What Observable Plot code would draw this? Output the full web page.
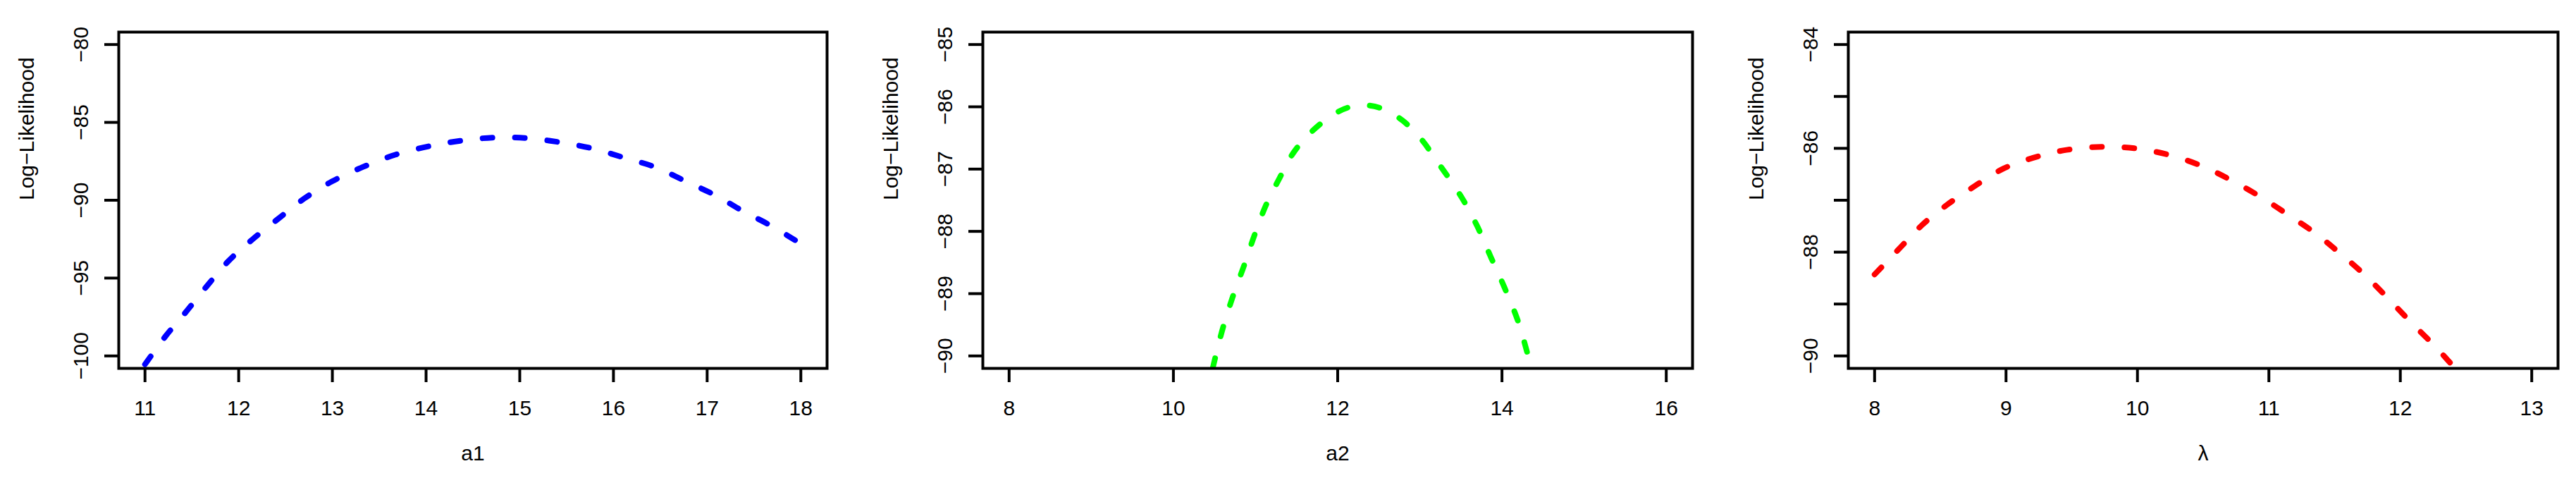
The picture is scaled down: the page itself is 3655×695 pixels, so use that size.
<!DOCTYPE html>
<html>
<head>
<meta charset="utf-8">
<script src="https://cdn.jsdelivr.net/npm/d3@7"></script>
<script src="https://cdn.jsdelivr.net/npm/@observablehq/plot@0.6"></script>
<style>
html, body { margin: 0; padding: 0; background: #fff; }
#row { display: flex; width: 3655px; height: 695px; overflow: hidden; }
#row svg { display: block; flex: none; }
</style>
</head>
<body>
<div id="row"></div>
<script>
// ---- Panel 1: a1 ----
const a1Grid = [11.00, 11.22, 11.43, 11.66, 11.89, 12.15, 12.42, 12.70, 13.00, 13.32, 13.67, 14.08, 14.43, 14.75, 15.07, 15.42, 15.77, 16.12, 16.45, 16.77, 17.09, 17.38, 17.70, 18.00];
const a1LogLik = [-100.54, -98.73, -97.23, -95.52, -93.91, -92.50, -91.20, -89.89, -88.78, -87.88, -87.08, -86.47, -86.13, -85.97, -86.01, -86.27, -86.67, -87.28, -87.88, -88.78, -89.69, -90.69, -91.70, -92.80];
const a1XTicks = [11, 12, 13, 14, 15, 16, 17, 18];
const a1YTicks = [-100, -95, -90, -85, -80];
const a1YLabels = ["\u2212100", "\u221295", "\u221290", "\u221285", "\u221280"];

// ---- Panel 2: a2 ----
const a2Grid = [10.48, 10.59, 10.72, 10.86, 10.99, 11.13, 11.29, 11.46, 11.69, 11.99, 12.19, 12.39, 12.56, 12.79, 13.03, 13.19, 13.33, 13.53, 13.70, 13.86, 14.03, 14.20, 14.34];
const a2LogLik = [-90.19, -89.61, -89.06, -88.55, -88.05, -87.57, -87.15, -86.74, -86.39, -86.09, -85.99, -85.98, -86.04, -86.22, -86.54, -86.84, -87.10, -87.50, -87.92, -88.40, -88.90, -89.46, -90.11];
const a2XTicks = [8, 10, 12, 14, 16];
const a2YTicks = [-90, -89, -88, -87, -86, -85];
const a2YLabels = ["\u221290", "\u221289", "\u221288", "\u221287", "\u221286", "\u221285"];

// ---- Panel 3: lambda ----
const lambdaGrid = [8.00, 8.20, 8.36, 8.55, 8.76, 8.98, 9.21, 9.46, 9.73, 9.98, 10.23, 10.48, 10.71, 10.94, 11.14, 11.35, 11.54, 11.73, 11.91, 12.08, 12.27, 12.41];
const lambdaLogLik = [-88.43, -87.90, -87.48, -87.09, -86.73, -86.39, -86.18, -86.03, -85.97, -86.00, -86.12, -86.33, -86.61, -86.94, -87.27, -87.63, -88.02, -88.44, -88.90, -89.35, -89.83, -90.22];
const lambdaXTicks = [8, 9, 10, 11, 12, 13];
const lambdaYTicks = [-90, -89, -88, -87, -86, -85, -84];
const lambdaYLabels = ["\u221290", "", "\u221288", "", "\u221286", "", "\u221284"];

const yTitle = "Log\u2212Likelihood";
const xTitles = ["a1", "a2", "\u03bb"];
const colors = ["#0000ff", "#00ff00", "#ff0000"];

// R-style 4% axis extension
function extend(lo, hi) { const d = (hi - lo) * 0.04; return [lo - d, hi + d]; }

function panel({width, ml, mr, grid, ll, color, xlim, ylim, xTicks, yTicks, yLabels, xTitle}) {
  const data = grid.map((x, i) => ({x, y: ll[i]}));
  const lab = new Map(yTicks.map((t, i) => [t, yLabels[i]]));
  return Plot.plot({
    width, height: 695,
    marginLeft: ml, marginRight: mr, marginTop: 45, marginBottom: 173,
    style: {fontFamily: "'Liberation Sans', Arial, Helvetica, sans-serif", fontSize: "30px", color: "black", background: "white", overflow: "visible"},
    x: {domain: extend(...xlim)},
    y: {domain: extend(...ylim)},
    marks: [
      Plot.line(data, {x: "x", y: "y", stroke: color, strokeWidth: 8, strokeDasharray: "14,32", strokeLinecap: "round", curve: "catmull-rom", clip: true}),
      Plot.frame({stroke: "black", strokeWidth: 4}),
      Plot.axisX({ticks: xTicks, tickSize: 20, tickPadding: 25, strokeWidth: 4, fontSize: 30, label: null, tickFormat: d => String(d)}),
      Plot.axisY({ticks: yTicks, tickSize: 20, tickPadding: 24, tickRotate: -90, strokeWidth: 4, fontSize: 30, label: null, tickFormat: d => lab.get(d)}),
      Plot.text([yTitle], {frameAnchor: "left", dx: -130, rotate: -90, fontSize: 30, text: d => d, fill: "black"}),
      Plot.text([xTitle], {frameAnchor: "bottom", dy: 130, fontSize: 30, text: d => d, fill: "black"})
    ]
  });
}

const row = document.getElementById("row");
row.appendChild(panel({width: 1218, ml: 168, mr: 45, grid: a1Grid, ll: a1LogLik, color: colors[0], xlim: [11, 18], ylim: [-100, -80], xTicks: a1XTicks, yTicks: a1YTicks, yLabels: a1YLabels, xTitle: xTitles[0]}));
row.appendChild(panel({width: 1219, ml: 176, mr: 36, grid: a2Grid, ll: a2LogLik, color: colors[1], xlim: [8, 16], ylim: [-90, -85], xTicks: a2XTicks, yTicks: a2YTicks, yLabels: a2YLabels, xTitle: xTitles[1]}));
row.appendChild(panel({width: 1218, ml: 185, mr: 26, grid: lambdaGrid, ll: lambdaLogLik, color: colors[2], xlim: [8, 13], ylim: [-90, -84], xTicks: lambdaXTicks, yTicks: lambdaYTicks, yLabels: lambdaYLabels, xTitle: xTitles[2]}));
</script>
</body>
</html>
